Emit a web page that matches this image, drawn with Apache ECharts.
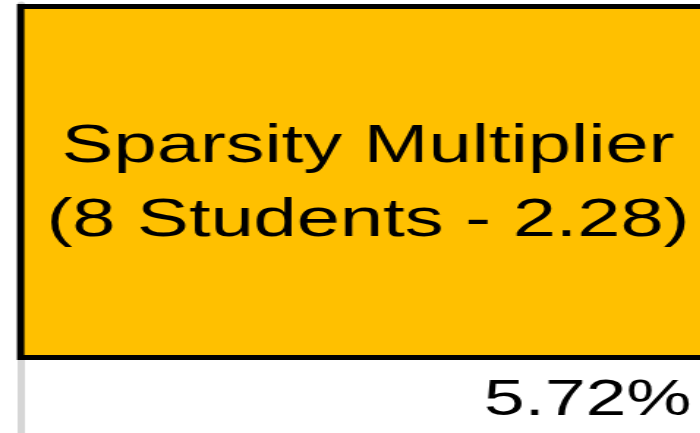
<!DOCTYPE html>
<html>
<head>
<meta charset="utf-8">
<script src="https://cdn.jsdelivr.net/npm/echarts@6/dist/echarts.min.js"></script>
<style>
  html, body { margin: 0; padding: 0; background: #fff; overflow: hidden; }
  /* the reference is stretched horizontally, so the chart is too */
  #chart { width: 478px; height: 433px; transform: scaleX(1.465); transform-origin: 0 0; }
</style>
</head>
<body>
<div id="chart"></div>
<script>
// data
const categories = ['Funding']
const baseValues = [1]
const sparsityValues = [2.28]
const baseLabel = '5.72%'
const sparsityLabel = 'Sparsity Multiplier\n(8 Students - 2.28)'

const chart = echarts.init(document.getElementById('chart'), null, { renderer: 'canvas' })

chart.setOption({
  animation: false,
  backgroundColor: '#fff',
  // the view is a crop: the column runs off the right and bottom edges
  grid: { left: 14.1, top: 4, width: 474.2, height: 512.1, outerBoundsMode: 'none' },
  xAxis: {
    type: 'category',
    data: categories,
    show: false,
  },
  yAxis: {
    type: 'value',
    min: 0,
    max: 3.28,
    axisLine: { show: true, lineStyle: { color: '#d6d6d6', width: 5 } },
    axisTick: { show: false },
    axisLabel: { show: false },
    splitLine: { show: false },
  },
  series: [
    {
      name: 'Base',
      type: 'bar',
      stack: 'total',
      barWidth: 479.2,
      clip: false,
      data: baseValues,
      itemStyle: { color: 'rgba(255,255,255,0)', borderWidth: 0 },
      label: {
        show: true,
        position: [460.4, 41.5],
        align: 'right',
        verticalAlign: 'middle',
        formatter: () => baseLabel,
        color: '#000',
        fontSize: 50,
        fontFamily: 'Liberation Sans, Arial, sans-serif',
      },
    },
    {
      name: 'Sparsity Multiplier',
      type: 'bar',
      stack: 'total',
      barWidth: 479.2,
      clip: false,
      data: sparsityValues,
      itemStyle: { color: '#ffc000', borderColor: '#000000', borderWidth: 5 },
      label: {
        show: true,
        position: 'inside',
        offset: [0, 2],
        formatter: () => sparsityLabel,
        color: '#000',
        fontSize: 53,
        lineHeight: 74,
        fontFamily: 'Liberation Sans, Arial, sans-serif',
      },
    },
  ],
})
</script>
</body>
</html>
